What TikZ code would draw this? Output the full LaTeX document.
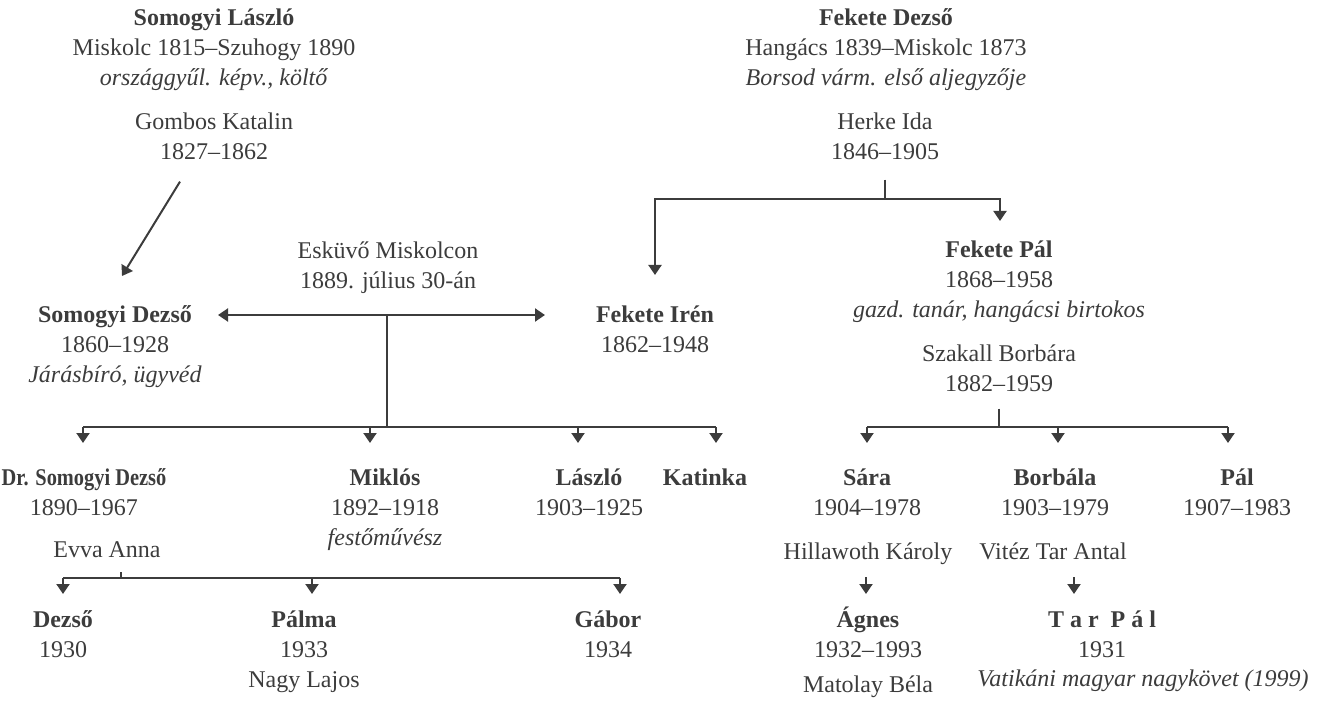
\documentclass[tikz,border=0pt]{standalone}
\usepackage{fontspec}
\setmainfont{Liberation Serif}
\usetikzlibrary{arrows.meta,calc}
\definecolor{ink}{HTML}{3C3C3C}
\begin{document}
\begin{tikzpicture}[x=1pt,y=-1pt,
    pers/.style={anchor=north,yshift=12pt,align=center,inner sep=0pt,text=ink,
      font=\fontsize{24}{30}\selectfont},
    ln/.style={draw=ink,line width=2pt},
    kid/.style={ln,-{Triangle[length=10pt,width=13pt]}},
    wed/.style={ln,{Triangle[length=10pt,width=13pt]}-{Triangle[length=10pt,width=13pt]}}]
  \useasboundingbox (0,0) rectangle (1318,703);
  % oregszulok
  \node[pers] (sl) at (214,16) {\strut\textbf{Somogyi László}\\Miskolc 1815–Szuhogy 1890\\\textit{országgyűl. képv., költő}};
  \node[pers] (gk) at (214,120) {\strut Gombos Katalin\\1827–1862};
  \node[pers] (fd) at (886,16) {\strut\textbf{Fekete Dezső}\\Hangács 1839–Miskolc 1873\\\textit{Borsod várm. első aljegyzője}};
  \node[pers] (hi) at (885,120) {\strut Herke Ida\\1846–1905};
  % szulok
  \node[pers] (esk) at (388,249) {\strut Esküvő Miskolcon\\1889. július 30-án};
  \node[pers] (sd) at (115,313) {\strut\textbf{Somogyi Dezső}\\1860–1928\\\textit{Járásbíró, ügyvéd}};
  \node[pers] (fi) at (655,313) {\strut\textbf{Fekete Irén}\\1862–1948};
  \node[pers] (fp) at (999,248) {\strut\textbf{Fekete Pál}\\1868–1958\\\textit{gazd. tanár, hangácsi birtokos}};
  \node[pers] (szb) at (999,352) {\strut Szakall Borbára\\1882–1959};
  % gyerekek
  \node[pers] (dsd) at (84,476) {\strut\textbf{\scalebox{0.85}[1]{Dr. Somogyi Dezső}}\\1890–1967};
  \node[pers] (evva) at (107,548) {\strut Evva Anna};
  \node[pers] (mik) at (385,476) {\strut\textbf{Miklós}\\1892–1918\\\textit{festőművész}};
  \node[pers] (las) at (589,476) {\strut\textbf{László}\\1903–1925};
  \node[pers] (kat) at (705,476) {\strut\textbf{Katinka}};
  \node[pers] (sara) at (867,476) {\strut\textbf{Sára}\\1904–1978};
  \node[pers] (hk) at (868,550) {\strut Hillawoth Károly};
  \node[pers] (borb) at (1055,476) {\strut\textbf{Borbála}\\1903–1979};
  \node[pers] (vta) at (1053,550) {\strut Vitéz Tar Antal};
  \node[pers] (pal) at (1237,476) {\strut\textbf{Pál}\\1907–1983};
  % unokak
  \node[pers] (dez) at (63,618) {\strut\textbf{Dezső}\\1930};
  \node[pers] (palma) at (304,618) {\strut\textbf{Pálma}\\1933\\Nagy Lajos};
  \node[pers] (gab) at (608,618) {\strut\textbf{Gábor}\\1934};
  \node[pers] (agn) at (868,618) {\strut\textbf{Ágnes}\\1932–1993};
  \node[pers] (mb) at (868,683) {\strut Matolay Béla};
  \node[pers] (tp) at (1102,618) {\strut\textbf{T a r~~P á l}\\1931};
  \node[pers] (vat) at (1143,677) {\strut\textit{Vatikáni magyar nagykövet (1999)}};

  \coordinate (fb) at (885,199);
  \coordinate (mj) at (387,315);
  \coordinate (kb) at (387,427);
  \coordinate (pb) at (999,427);
  \coordinate (eb) at (121,578);

  \draw[kid] ($(gk.south)+(-34,22)$) -- ($(sd.north)+(7,-25)$);
  \draw[ln] ($(hi.south)+(0,20)$) -- (fb);
  \draw[kid] (fb) -| ($(fi.north)+(0,-26)$);
  \draw[kid] (fb) -| ($(fp.north)+(1,-15)$);
  \draw[wed] (218,315) -- (545,315);
  \draw[ln] (mj) -- (kb);
  \draw[ln] ($(dsd.north |- kb)+(-1,0)$) -- ++(633,0);
  \foreach \n/\dx in {dsd/-1,mik/-15,las/-11,kat/11}
    \draw[kid] ($(\n.north |- kb)+(\dx,0)$) -- ($(\n.north)+(\dx,-21)$);
  \draw[ln] ($(szb.south)+(0,17)$) -- (pb);
  \draw[ln] (sara.north |- pb) -- ++(361,0);
  \foreach \n/\dx in {sara/0,borb/3,pal/-9}
    \draw[kid] ($(\n.north |- pb)+(\dx,0)$) -- ($(\n.north)+(\dx,-21)$);
  \draw[ln] ($(evva.south)+(14,6)$) -- (eb);
  \draw[ln] (dez.north |- eb) -- ++(557,0);
  \foreach \n/\dx in {dez/0,palma/8,gab/12}
    \draw[kid] ($(\n.north |- eb)+(\dx,0)$) -- ($(\n.north)+(\dx,-12)$);
  \draw[kid] ($(agn.north)+(-2,-29)$) -- ($(agn.north)+(-2,-12)$);
  \draw[kid] ($(tp.north)+(-28,-29)$) -- ($(tp.north)+(-28,-12)$);
\end{tikzpicture}
\end{document}
